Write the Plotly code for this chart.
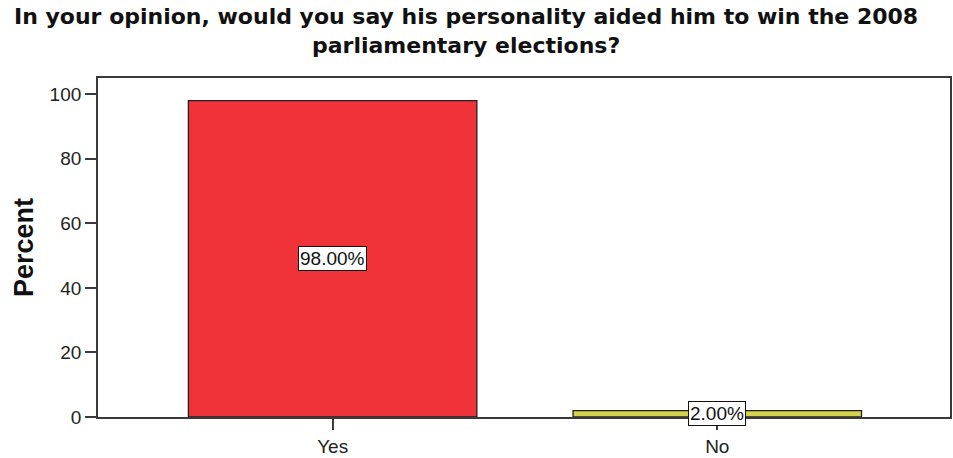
import plotly.graph_objects as go

categories = ["Yes", "No"]
percents = [98.0, 2.0]
labels = ["98.00%", "2.00%"]
colors = ["#EF3339", "#D6D24C"]
y_ticks = [0, 20, 40, 60, 80, 100]
title_lines = ["In your opinion, would you say his personality aided him to win the 2008",
               "parliamentary elections?"]

FONT = "Liberation Sans, Arial, sans-serif"
TITLE_FONT = "DejaVu Sans, Liberation Sans, Arial, sans-serif"

fig = go.Figure()
fig.add_trace(go.Bar(
    x=categories, y=percents, width=0.75,
    marker=dict(color=colors, line=dict(color="#222222", width=1.3)),
    hoverinfo="skip",
))
for c, v, t in zip(categories, percents, labels):
    fig.add_annotation(
        x=c, y=v / 2, text=t, showarrow=False,
        font=dict(family=FONT, size=19, color="#111111"),
        bgcolor="white", bordercolor="#111111", borderwidth=1, borderpad=1,
    )

# two-line title centred over the page (plot area spans pixel rows 78..419)
fig.add_annotation(
    text="<br>".join("<b>" + s + "</b>" for s in title_lines),
    xref="paper", yref="paper",
    x=(467 - 98) / 854, y=(419 - 31) / 341, xanchor="center", yanchor="middle",
    showarrow=False, font=dict(family=TITLE_FONT, size=22, color="#111111"),
)

fig.update_layout(
    width=953, height=458,
    margin=dict(l=98, r=1, t=78, b=39),
    paper_bgcolor="white", plot_bgcolor="white",
    showlegend=False,
    xaxis=dict(
        range=[-0.61, 1.605], showline=True, linecolor="#3a3a3a", linewidth=1.8, mirror=True,
        ticks="outside", ticklen=11, tickcolor="#3a3a3a", tickwidth=1.8,
        tickfont=dict(family=FONT, size=19, color="#222222"),
        showgrid=False,
    ),
    yaxis=dict(
        range=[0, 105], tickvals=y_ticks, showline=True, linecolor="#3a3a3a", linewidth=1.8, mirror=True,
        ticks="outside", ticklen=11, tickcolor="#3a3a3a", tickwidth=1.8,
        tickfont=dict(family=FONT, size=19, color="#222222"),
        showgrid=False, zeroline=False,
        title=dict(text="<b>Percent</b>", standoff=8,
                   font=dict(family=FONT, size=27, color="#111111")),
    ),
)
fig.write_html("out.html", config={"displayModeBar": False},
               post_script="document.body.style.margin='0';")
